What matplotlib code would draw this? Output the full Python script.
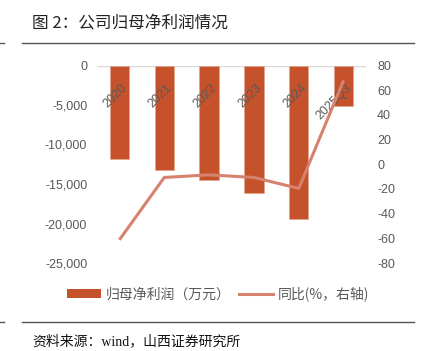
import matplotlib
matplotlib.use('Agg')
import matplotlib.pyplot as plt
from matplotlib.lines import Line2D
from matplotlib.patches import Patch

categories = ['2020', '2021', '2022', '2023', '2024', '2025Q3']
net_profit = [-11870, -13200, -14500, -16100, -19400, -5100]   # 万元
yoy = [-61.2, -10.7, -8.6, -10.7, -19.6, 67.9]                  # %
left_ticks = [0, -5000, -10000, -15000, -20000, -25000]
right_ticks = [80, 60, 40, 20, 0, -20, -40, -60, -80]

bar_color = '#C5522B'
line_color = '#D6826E'
tick_color = '#595959'
cjk = ['Noto Sans CJK SC', 'DejaVu Sans']

fig = plt.figure(figsize=(4.25, 3.51), dpi=100)
ax = fig.add_axes([97/425, 1-263/351, (366-97)/425, (263-65.5)/351])
x = list(range(len(categories)))
ax.bar(x, net_profit, width=0.43, color=bar_color, edgecolor='#E3A68C',
       linewidth=0.5, zorder=2)
ax.set_xlim(-0.5, len(categories)-0.5)
ax.set_ylim(left_ticks[-1], left_ticks[0])
ax.set_yticks(left_ticks)
ax.set_yticklabels([f'{v:,}' for v in left_ticks], family='Liberation Sans')
ax.tick_params(axis='y', length=0, pad=7, labelcolor=tick_color, labelsize=9)
ax.set_xticks([])
for s in ax.spines.values():
    s.set_visible(False)
ax.axhline(0, color='#D9D9D9', lw=1, zorder=1)

for i, c in enumerate(categories):
    ax.annotate(c, xy=(i, 0), xycoords='data', xytext=(4.3, -14.8),
                textcoords='offset points', rotation=45, rotation_mode='anchor',
                ha='right', va='center', fontsize=9, color=tick_color,
                family='Liberation Sans', zorder=3)

ax2 = ax.twinx()
ax2.plot(x, yoy, color=line_color, lw=2.2, solid_joinstyle='round',
         solid_capstyle='butt', zorder=3)
ax2.set_ylim(right_ticks[-1], right_ticks[0])
ax2.set_yticks(right_ticks)
ax2.set_yticklabels([str(v) for v in right_ticks], family='Liberation Sans')
ax2.tick_params(axis='y', length=0, pad=8, labelcolor=tick_color, labelsize=9)
for s in ax2.spines.values():
    s.set_visible(False)

handles = [Patch(facecolor=bar_color, edgecolor='none'),
           Line2D([0], [0], color=line_color, lw=2.2)]
labels = ['归母净利润（万元）', '同比(%，右轴)']
leg = fig.legend(handles, labels, loc='center', bbox_to_anchor=(0.514, 1-294/351),
                 ncol=2, frameon=False, handlelength=2.4, handleheight=0.6,
                 handletextpad=0.4, columnspacing=0.6,
                 prop={'family': cjk, 'size': 10})
for t in leg.get_texts():
    t.set_color(tick_color)

fig.text(32/425, 1-24/351, '图 2：公司归母净利润情况', fontsize=12,
         family=cjk, va='center', ha='left', color='#222222')
fig.add_artist(Line2D([22/425, 414/425], [1-43.3/351]*2, color='#555555', lw=1))
fig.add_artist(Line2D([0, 4/425], [1-43.3/351]*2, color='#555555', lw=1))
fig.add_artist(Line2D([22/425, 414/425], [1-321.7/351]*2, color='#555555', lw=1))
fig.add_artist(Line2D([0, 4/425], [1-321.7/351]*2, color='#555555', lw=1))
fig.text(32/425, 1-341/351, '资料来源：wind，山西证券研究所', fontsize=10,
         family=['Liberation Serif', 'Noto Sans CJK SC'], va='center', ha='left',
         color='#111111')

fig.savefig('out.png', dpi=100)
